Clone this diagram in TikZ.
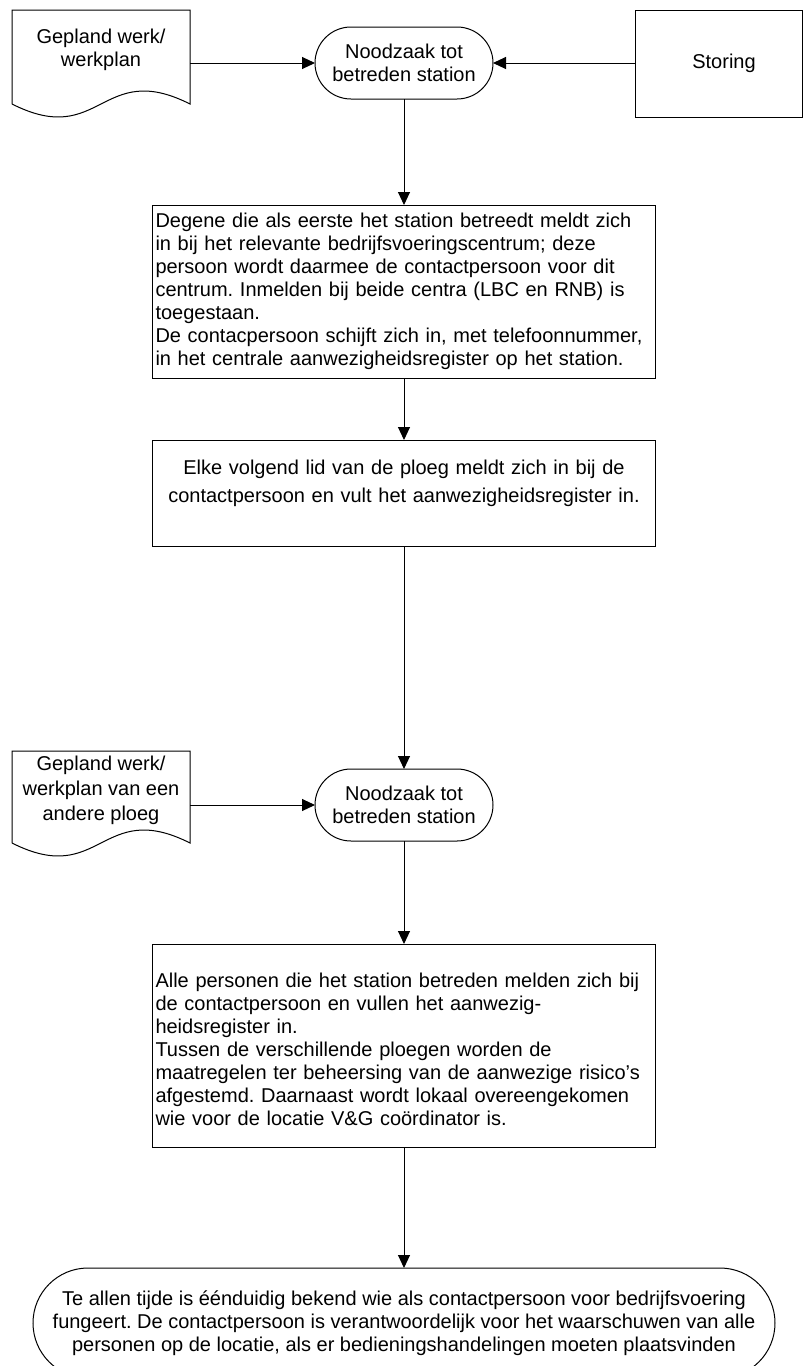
\documentclass[tikz,border=0pt]{standalone}
\usepackage{fontspec}
\setmainfont{Liberation Sans}
\usetikzlibrary{arrows.meta}
\usetikzlibrary{calc}
\usetikzlibrary{positioning}

\tikzset{
  every node/.style={font=\fontsize{20}{23}\selectfont, outer sep=0pt},
  doc/.style={minimum width=178pt, align=center},
  term/.style={draw, rounded corners=36pt, minimum width=178pt, minimum height=72pt, align=center},
  stepbox/.style={draw, minimum width=503pt, text width=497pt, inner xsep=3pt, align=left},
}

\newcommand{\drawdoc}[1]{%
  \coordinate (#1_bl) at ($(#1.south west)+(0,14)$);
  \coordinate (#1_br) at ($(#1.south east)+(0,14)$);
  \draw (#1_bl) -- (#1.north west) -- (#1.north east) -- (#1_br)
    .. controls ($(#1_bl)!0.5!(#1_br)+(0,-45)$) and ($(#1_bl)!0.5!(#1_br)+(0,45)$) .. (#1_bl);
}

\begin{document}
\frenchspacing
\begin{tikzpicture}[x=1pt, y=-1pt, line width=1pt, >={Triangle[length=13pt,width=12pt]}]
  \useasboundingbox (0,0) rectangle (803,1366);

  \node [doc, minimum height=80pt] (plan_a) at (101,50) {Gepland werk/\\werkplan};
  \node [term] (need_a) at (404,63) {Noodzaak tot\\betreden station};
  \node [draw, minimum width=167pt, minimum height=107pt] (fault) at (718.5,63.5) {\hspace*{11pt}Storing};

  \node [stepbox, minimum height=173pt] (entry) at (404,291.5) {Degene die als eerste het station betreedt meldt zich\\
    in bij het relevante bedrijfsvoeringscentrum; deze\\
    persoon wordt daarmee de contactpersoon voor dit\\
    centrum. Inmelden bij beide centra (LBC en RNB) is\\
    toegestaan.\\
    De contacpersoon schijft zich in, met telefoonnummer,\\
    in het centrale aanwezigheidsregister op het station.};
  \node [stepbox, align=center, minimum height=106pt, below=62pt of entry] (signin) {Elke volgend lid van de ploeg meldt zich in bij de\\[5pt]
    contactpersoon en vult het aanwezigheidsregister in.\\
    \mbox{}};

  \node [term, below=223pt of signin] (need_b) {Noodzaak tot\\betreden station};
  \node [doc, minimum height=78pt, font=\fontsize{20}{25}\selectfont] (plan_b) at (101,790) {Gepland werk/\\werkplan van een\\andere ploeg};

  \node [stepbox, minimum height=203pt, below=103pt of need_b] (meet) {\mbox{}\\
    Alle personen die het station betreden melden zich bij\\
    de contactpersoon en vullen het aanwezig-\\
    heidsregister in.\\
    Tussen de verschillende ploegen worden de\\
    maatregelen ter beheersing van de aanwezige risico’s\\
    afgestemd. Daarnaast wordt lokaal overeengekomen\\
    wie voor de locatie V\&G coördinator is.};
  \node [term, rounded corners=55pt, minimum width=742pt, minimum height=110pt, below=121pt of meet] (alert) {Te allen tijde is éénduidig bekend wie als contactpersoon voor bedrijfsvoering\\
    fungeert. De contactpersoon is verantwoordelijk voor het waarschuwen van alle\\
    personen op de locatie, als er bedieningshandelingen moeten plaatsvinden};

  \drawdoc{plan_a}
  \drawdoc{plan_b}

  \path [->]
    (plan_a.east |- need_a) edge (need_a)
    (fault.west |- need_a)  edge (need_a)
    (need_a) edge (entry)
    (entry)  edge (signin)
    (signin) edge (need_b)
    (plan_b.east |- need_b) edge (need_b)
    (need_b) edge (meet)
    (meet)   edge (alert);

\end{tikzpicture}
\end{document}
